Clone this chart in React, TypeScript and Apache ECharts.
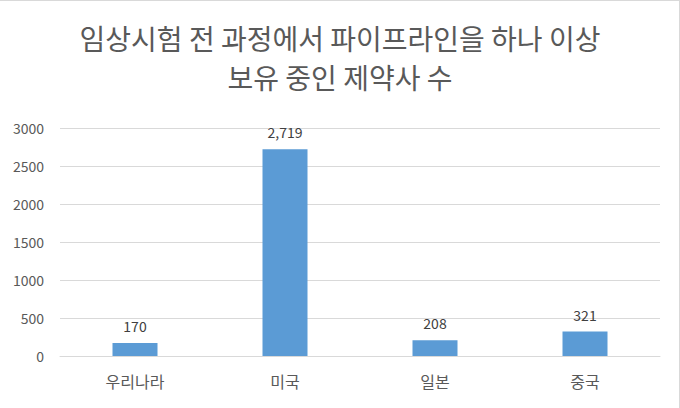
import React, { useEffect, useRef } from "react";
import * as echarts from "echarts";

const categories = ["우리나라", "미국", "일본", "중국"];
const values = [170, 2719, 208, 321];
const titleLines = ["임상시험 전 과정에서 파이프라인을 하나 이상", "보유 중인 제약사 수"];

const FONT = "'Noto Sans CJK KR', 'Noto Sans', sans-serif";
const TEXT = "#595959";
const GRID = "#d9d9d9";

export default function App() {
  const ref = useRef<HTMLDivElement>(null);
  useEffect(() => {
    document.body.style.margin = "0";
    const chart = echarts.init(ref.current!, null, { renderer: "svg" });
    chart.setOption({
      animation: false,
      backgroundColor: "#ffffff",
      textStyle: { fontFamily: FONT },
      title: {
        text: titleLines.join("\n"),
        left: "center",
        top: 13,
        textStyle: {
          fontFamily: FONT,
          fontSize: 28,
          fontWeight: "normal",
          color: TEXT,
          lineHeight: 39,
        },
      },
      grid: { left: 60, right: 20, top: 128, bottom: 52 },
      xAxis: {
        type: "category",
        data: categories,
        axisLine: { lineStyle: { color: GRID, width: 1 } },
        axisTick: { show: false },
        axisLabel: { color: TEXT, fontSize: 16, fontFamily: FONT, margin: 17 },
      },
      yAxis: {
        type: "value",
        min: 0,
        max: 3000,
        interval: 500,
        axisLine: { show: false },
        axisTick: { show: false },
        splitLine: { lineStyle: { color: GRID, width: 1 } },
        axisLabel: {
          color: TEXT,
          fontSize: 14,
          fontFamily: FONT,
          margin: 16,
          formatter: (v: number) => String(v),
        },
      },
      series: [
        {
          type: "bar",
          data: values,
          barWidth: "30%",
          itemStyle: { color: "#5b9bd5" },
          label: {
            show: true,
            position: "top",
            distance: 10,
            color: "#404040",
            fontSize: 14,
            fontFamily: FONT,
            formatter: (p: any) => Number(p.value).toLocaleString("en-US"),
          },
        },
      ],
      graphic: [
        { type: "line", shape: { x1: 0, y1: 0.5, x2: 680, y2: 0.5 }, style: { stroke: GRID, lineWidth: 1 } },
        { type: "line", shape: { x1: 679.5, y1: 0, x2: 679.5, y2: 408 }, style: { stroke: GRID, lineWidth: 1 } },
      ],
    });
    return () => chart.dispose();
  }, []);
  return <div ref={ref} style={{ width: 680, height: 408, position: "absolute", left: 0, top: 0 }} />;
}
